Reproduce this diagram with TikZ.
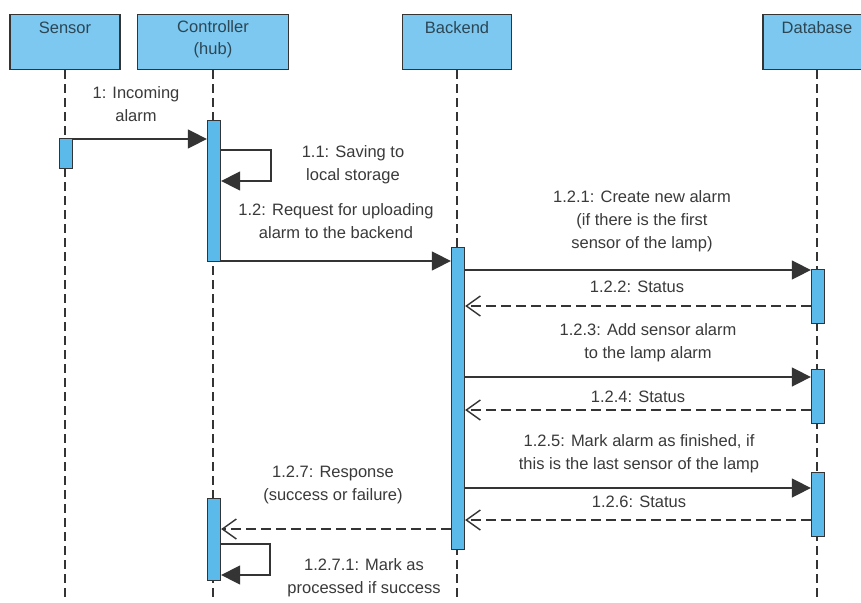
\documentclass[tikz,border=0pt]{standalone}
\usepackage{fontspec}
\setmainfont{Liberation Sans}
\usetikzlibrary{arrows.meta}
\definecolor{headfill}{RGB}{124,200,240}
\definecolor{barfill}{RGB}{92,186,234}
\definecolor{edge}{RGB}{52,52,52}
\definecolor{txt}{RGB}{58,58,58}
\definecolor{headtxt}{RGB}{44,70,84}
\tikzset{
  head/.style={draw=edge, line width=1.4pt, fill=headfill, minimum height=55pt,
    anchor=north, inner sep=0pt},
  headtext/.style={text=headtxt, align=center, inner sep=0pt,
    font=\fontsize{16.5}{22}\selectfont},
  lifeline/.style={draw=edge, line width=1.4pt, dash pattern=on 9pt off 5pt},
  bar/.style={draw=edge, line width=1.3pt, fill=barfill, minimum width=13pt,
    inner sep=0pt, anchor=north},
  msg/.style={draw=edge, line width=1.5pt, -{Triangle[length=19pt,width=19pt]}},
  reply/.style={draw=edge, line width=1.5pt, dash pattern=on 10pt off 5pt,
    -{Straight Barb[length=14pt,width=20pt,line width=1.4pt]}},
  lbl/.style={text=txt, align=center, inner sep=0pt,
    font=\fontsize{16.5}{23}\selectfont}
}
\begin{document}
\begin{tikzpicture}[x=1pt,y=-1pt]
\clip (0,0) rectangle (861,602);
\fill[white] (0,0) rectangle (861,602);

% participants
\node[head, minimum width=110pt] (sensor) at (65,14) {};
\node[headtext] (sensorT) at (65,28) {Sensor};
\node[head, minimum width=151pt] (ctrl) at (213,14) {};
\node[headtext] (ctrlT) at (213,39) {Controller\\(hub)};
\node[head, minimum width=109pt] (back) at (457,14) {};
\node[headtext] (backT) at (457,28) {Backend};
\node[head, minimum width=108pt] (db) at (817,14) {};
\node[headtext] (dbT) at (817,28) {Database};

% lifelines
\coordinate (sensorEnd) at (65,602);
\coordinate (ctrlEnd) at (213,602);
\coordinate (backEnd) at (457,602);
\coordinate (dbEnd) at (817,602);
\draw[lifeline] (sensor.south) -- (sensorEnd);
\draw[lifeline] (ctrl.south) -- (ctrlEnd);
\draw[lifeline] (back.south) -- (backEnd);
\draw[lifeline] (db.south) -- (dbEnd);

% activation bars
\node[bar, minimum height=30pt]  (sensA) at (66,138) {};
\node[bar, minimum height=141pt] (ctrlA) at (214,120) {};
\node[bar, minimum height=82pt]  (ctrlB) at (214,498) {};
\node[bar, minimum height=302pt] (backA) at (458,247) {};
\node[bar, minimum height=54pt]  (dbA) at (818,269) {};
\node[bar, minimum height=54pt]  (dbB) at (818,369) {};
\node[bar, minimum height=64pt]  (dbC) at (818,472) {};

% messages
\draw[msg] (sensA.east |- 0,139) -- (ctrlA.west |- 0,139);
\node[lbl] (l1) at (136,104) {1: Incoming\\alarm};

\draw[msg] (ctrlA.east |- 0,150) -- (271,150) -- (271,181) -- (ctrlA.east |- 0,181);
\node[lbl] (l11) at (353,165) {1.1: Saving to\\local storage};

\draw[msg] (ctrlA.east |- 0,261) -- (backA.west |- 0,261);
\node[lbl] (l12) at (336,221) {1.2: Request for uploading\\alarm to the backend};

\draw[msg] (backA.east |- 0,270) -- (dbA.west |- 0,270);
\node[lbl] (l121) at (642,221) {1.2.1: Create new alarm\\(if there is the first\\sensor of the lamp)};

\draw[reply] (dbA.west |- 0,306) -- (backA.east |- 0,306);
\node[lbl] (l122) at (637,287) {1.2.2: Status};

\draw[msg] (backA.east |- 0,377) -- (dbB.west |- 0,377);
\node[lbl] (l123) at (648,343) {1.2.3: Add sensor alarm\\to the lamp alarm};

\draw[reply] (dbB.west |- 0,410) -- (backA.east |- 0,410);
\node[lbl] (l124) at (638,397) {1.2.4: Status};

\draw[msg] (backA.east |- 0,488) -- (dbC.west |- 0,488);
\node[lbl] (l125) at (639,454) {1.2.5: Mark alarm as finished, if\\this is the last sensor of the lamp};

\draw[reply] (dbC.west |- 0,520) -- (backA.east |- 0,520);
\node[lbl] (l126) at (639,502) {1.2.6: Status};

\draw[reply] (backA.west |- 0,529) -- (ctrlB.east |- 0,529);
\node[lbl] (l127) at (333,485) {1.2.7: Response\\(success or failure)};

\draw[msg] (ctrlB.east |- 0,544) -- (270,544) -- (270,575) -- (ctrlB.east |- 0,575);
\node[lbl] (l1271) at (364,578) {1.2.7.1: Mark as\\processed if success};
\end{tikzpicture}
\end{document}
